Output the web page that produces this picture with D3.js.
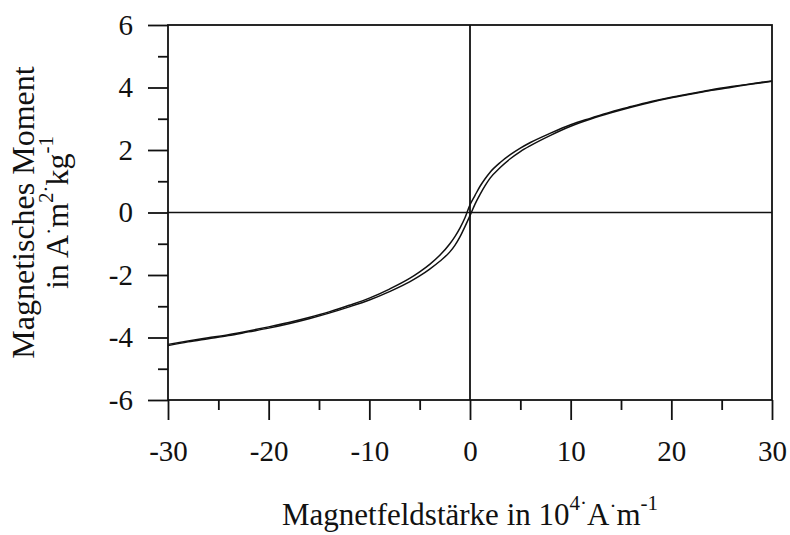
<!DOCTYPE html>
<html>
<head>
<meta charset="utf-8">
<script src="https://cdn.jsdelivr.net/npm/d3@7"></script>
<style>
  html, body { margin: 0; padding: 0; background: #fff; }
  svg { display: block; }
  text { font-family: "Liberation Serif", "Times New Roman", serif; fill: #111; }
</style>
</head>
<body>
<svg id="chart" width="790" height="535"></svg>
<script>
// Field strength H (10^4 A/m) at which the loop was sampled
const fieldH = [-30, -28, -26, -24, -22, -20, -18, -16, -14, -12, -10, -8, -6, -5, -4, -3, -2, -1.5, -1, -0.5,
                0, 0.5, 1, 1.5, 2, 3, 4, 5, 6, 8, 10, 12, 14, 16, 18, 20, 22, 24, 26, 28, 30];
// Descending branch (field swept from +30 to -30), magnetic moment in A·m²/kg
const descendingM = [-4.22, -4.11, -4.01, -3.91, -3.79, -3.66, -3.52, -3.36, -3.18, -2.97, -2.74, -2.45, -2.11, -1.90, -1.66, -1.37, -1.00, -0.77, -0.50, -0.17,
                     0.25, 0.55, 0.84, 1.08, 1.29, 1.60, 1.85, 2.06, 2.24, 2.54, 2.81, 3.02, 3.22, 3.39, 3.55, 3.69, 3.81, 3.93, 4.03, 4.12, 4.21];
// Ascending branch (field swept from -30 to +30)
const ascendingM = [-4.26, -4.14, -4.04, -3.94, -3.82, -3.70, -3.56, -3.40, -3.22, -3.02, -2.80, -2.53, -2.22, -2.03, -1.81, -1.56, -1.26, -1.05, -0.78, -0.45,
                    -0.10, 0.27, 0.58, 0.86, 1.10, 1.44, 1.72, 1.95, 2.14, 2.47, 2.76, 2.99, 3.19, 3.37, 3.53, 3.67, 3.79, 3.91, 4.01, 4.11, 4.20];

const xMajorTicks = [-30, -20, -10, 0, 10, 20, 30];
const xMinorTicks = [-25, -15, -5, 5, 15, 25];
const yMajorTicks = [-6, -4, -2, 0, 2, 4, 6];
const yMinorTicks = [-5, -3, -1, 1, 3, 5];

const svg = d3.select("#chart");
const plotLeft = 168, plotRight = 772, plotTop = 25, plotBottom = 400;
const tickFont = "29px", titleFont = "31px", yTitleFont = "32px", supFont = "21px";

const x = d3.scaleLinear().domain([-30, 30]).range([plotLeft, plotRight]);
const y = d3.scaleLinear().domain([-6, 6]).range([plotBottom, plotTop]);

// Axes: long major ticks with labels, short minor ticks
function styleAxis(g) {
  g.select(".domain").remove();
  g.selectAll(".tick line").attr("stroke", "#111").attr("stroke-width", 1.8);
  g.selectAll(".tick text").style("font-size", tickFont)
    .style("font-family", "'Liberation Serif', 'Times New Roman', serif").attr("fill", "#111");
}

svg.append("g").attr("transform", `translate(0,${plotBottom})`)
  .call(d3.axisBottom(x).tickValues(xMajorTicks).tickSize(20).tickPadding(20).tickFormat(d3.format("d")))
  .call(styleAxis);
svg.append("g").attr("transform", `translate(0,${plotBottom})`)
  .call(d3.axisBottom(x).tickValues(xMinorTicks).tickSize(10).tickFormat(""))
  .call(styleAxis);
svg.append("g").attr("transform", `translate(${plotLeft},0)`)
  .call(d3.axisLeft(y).tickValues(yMajorTicks).tickSize(20).tickPadding(15).tickFormat(d3.format("d")))
  .call(styleAxis);
svg.append("g").attr("transform", `translate(${plotLeft},0)`)
  .call(d3.axisLeft(y).tickValues(yMinorTicks).tickSize(10).tickFormat(""))
  .call(styleAxis);

// Hyphen-minus on tick labels
svg.selectAll(".tick text").text(function() { return this.textContent.replace("\u2212", "-"); });

// Frame
svg.append("rect")
  .attr("x", plotLeft).attr("y", plotTop)
  .attr("width", plotRight - plotLeft).attr("height", plotBottom - plotTop)
  .attr("fill", "none").attr("stroke", "#111").attr("stroke-width", 1.8);

// Zero lines
svg.append("line")
  .attr("x1", plotLeft).attr("x2", plotRight).attr("y1", y(0)).attr("y2", y(0))
  .attr("stroke", "#111").attr("stroke-width", 1.6);
svg.append("line")
  .attr("x1", x(0)).attr("x2", x(0)).attr("y1", plotTop).attr("y2", plotBottom)
  .attr("stroke", "#111").attr("stroke-width", 1.8);

// Hysteresis loop: both branches
const line = d3.line().x(d => x(d[0])).y(d => y(d[1])).curve(d3.curveMonotoneX);
[descendingM, ascendingM].forEach(m => {
  svg.append("path")
    .datum(fieldH.map((h, i) => [h, m[i]]))
    .attr("d", line)
    .attr("fill", "none")
    .attr("stroke", "#111")
    .attr("stroke-width", 1.5);
});

// Axis titles
const xTitle = svg.append("text")
  .attr("x", (plotLeft + plotRight) / 2).attr("y", 525)
  .attr("text-anchor", "middle")
  .style("font-size", titleFont);
xTitle.append("tspan").text("Magnetfeldstärke in 10");
xTitle.append("tspan").attr("dy", -15).style("font-size", supFont).text("4·");
xTitle.append("tspan").attr("dy", 15).text("A");
xTitle.append("tspan").attr("dy", -12).style("font-size", supFont).text("·");
xTitle.append("tspan").attr("dy", 12).text("m");
xTitle.append("tspan").attr("dy", -15).style("font-size", supFont).text("-1");

const yTitle = svg.append("g")
  .attr("transform", `translate(0,${(plotTop + plotBottom) / 2}) rotate(-90)`);
yTitle.append("text")
  .attr("x", 0).attr("y", 34)
  .attr("text-anchor", "middle")
  .style("font-size", yTitleFont)
  .text("Magnetisches Moment");
const yl2 = yTitle.append("text")
  .attr("x", 0).attr("y", 68)
  .attr("text-anchor", "middle")
  .style("font-size", yTitleFont);
yl2.append("tspan").text("in A");
yl2.append("tspan").attr("dy", -12).style("font-size", supFont).text("·");
yl2.append("tspan").attr("dy", 12).text("m");
yl2.append("tspan").attr("dy", -15).style("font-size", supFont).text("2·");
yl2.append("tspan").attr("dy", 15).text("kg");
yl2.append("tspan").attr("dy", -15).style("font-size", supFont).text("-1");
</script>
</body>
</html>
